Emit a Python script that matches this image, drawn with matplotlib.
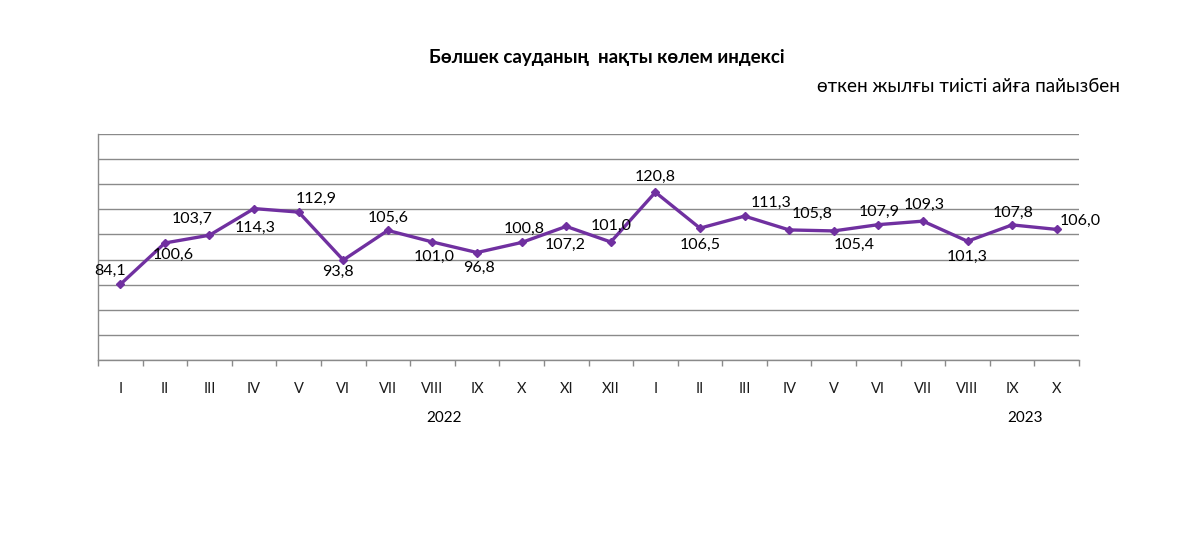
import matplotlib
matplotlib.use("Agg")
import matplotlib.pyplot as plt
import matplotlib.transforms as mtransforms
import numpy as np

months = ["I", "II", "III", "IV", "V", "VI", "VII", "VIII", "IX", "X", "XI", "XII",
          "I", "II", "III", "IV", "V", "VI", "VII", "VIII", "IX", "X"]
values = [84.1, 100.6, 103.7, 114.3, 112.9, 93.8, 105.6, 101.0, 96.8, 100.8, 107.2, 101.0,
          120.8, 106.5, 111.3, 105.8, 105.4, 107.9, 109.3, 101.3, 107.8, 106.0]
value_labels = ["84,1", "100,6", "103,7", "114,3", "112,9", "93,8", "105,6", "101,0", "96,8",
                "100,8", "107,2", "101,0", "120,8", "106,5", "111,3", "105,8", "105,4",
                "107,9", "109,3", "101,3", "107,8", "106,0"]
years = ["2022", "2023"]
title = "Бөлшек сауданың  нақты көлем индексі"
subtitle = "өткен жылғы тиісті айға пайызбен"

# label offsets in pixels (dx, dy), style only
offsets = [(-10, 14), (8, -12), (-17, 16), (1, -19), (18, 13), (-5, -12), (0, 13), (2, -15),
           (2, -15), (3, 14), (-1, -18), (0, 16), (0, 15), (0, -17), (26, 13), (23, 16),
           (20, -14), (1, 13), (1, 16), (0, -16), (1, 12), (24, 9)]

plt.rcParams['font.family'] = ['Lato', 'DejaVu Sans']

fig = plt.figure(figsize=(11.79, 5.4), dpi=100)
ax = fig.add_axes([98/1179, 1-360/540, (1079-98)/1179, (360-134)/540])

x = np.arange(len(values))
color = "#7030A0"
ax.plot(x, values, color=color, lw=2.4, marker="D", ms=4.5, mec=color, mfc=color, zorder=3)

ax.set_xlim(-0.5, len(values) - 0.5)
ax.set_ylim(54, 144)
ax.set_yticks(np.arange(54, 145, 10))
ax.yaxis.grid(True, color="#8a8a8a", lw=1)
ax.set_axisbelow(True)
ax.tick_params(axis="y", length=0, labelleft=False)

ax.set_xticks(x)
ax.set_xticklabels(months, fontsize=10.5, color="#1a1a1a")
ax.set_xticks(np.arange(-0.5, len(values), 1), minor=True)
ax.tick_params(axis="x", which="major", length=0, pad=16)
ax.tick_params(axis="x", which="minor", length=4, color="#8a8a8a", width=1)

for s in ["top", "right"]:
    ax.spines[s].set_visible(False)
for s in ["left", "bottom"]:
    ax.spines[s].set_color("#8a8a8a")
    ax.spines[s].set_linewidth(1)

for xi, v, lab, (dx, dy) in zip(x, values, value_labels, offsets):
    ax.annotate(lab, (xi, v), xytext=(dx * 0.72, dy * 0.72), textcoords="offset points",
                ha="center", va="center", fontsize=11.5, color="black", zorder=4)

trans = mtransforms.blended_transform_factory(ax.transData, fig.transFigure)
ax.text(7.27, 1 - 418/540, years[0], transform=trans, ha="center", va="center", fontsize=11)
ax.text(20.28, 1 - 418/540, years[1], transform=trans, ha="center", va="center", fontsize=11)

fig.text(607/1179, 1 - 57/540, title, ha="center", va="center", fontsize=13.5, fontweight="bold")
fig.text(1120/1179, 1 - 86/540, subtitle, ha="right", va="center", fontsize=13.6)

fig.savefig("out.png", dpi=100)
